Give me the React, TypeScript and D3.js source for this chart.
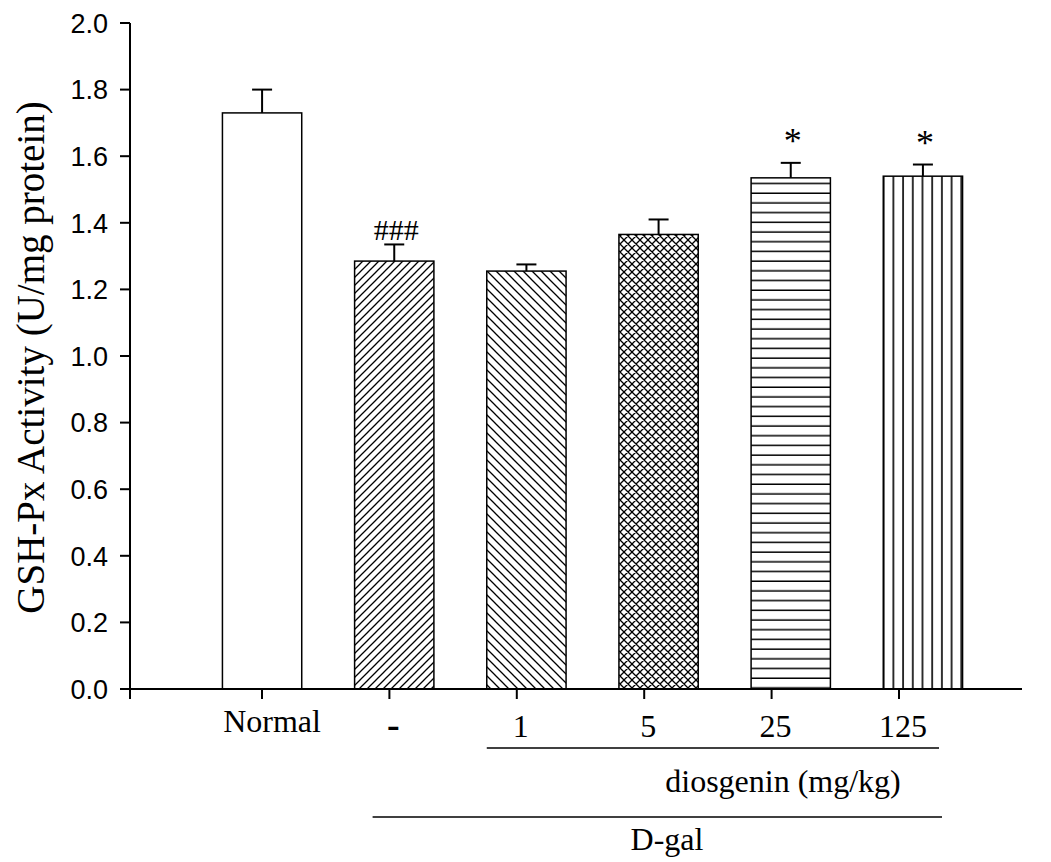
import { useEffect, useRef } from 'react'
import * as d3 from 'd3'

const groups = ['Normal', '-', '1', '5', '25', '125']
const means = [1.73, 1.285, 1.255, 1.365, 1.535, 1.54]
const errors = [0.07, 0.05, 0.02, 0.045, 0.045, 0.035]
const marks = ['', '###', '', '', '*', '*']
const fills = ['none', 'hatchUp', 'hatchDown', 'cross', 'horiz', 'vert']
const yTicks = [0, 0.2, 0.4, 0.6, 0.8, 1.0, 1.2, 1.4, 1.6, 1.8, 2.0]

const W = 1051
const H = 862
const serif = '"Liberation Serif", "Times New Roman", serif'
const sans = '"Liberation Sans", Arial, sans-serif'

export default function App() {
  const svgRef = useRef<SVGSVGElement>(null)

  useEffect(() => {
    if (!svgRef.current) return
    const svg = d3.select(svgRef.current)
    svg.selectAll('*').remove()

    const left = 130
    const right = 1022
    const top = 23
    const bottom = 689

    const y = d3.scaleLinear().domain([0, 2]).range([bottom, top])
    const x = d3.scaleBand<string>().domain(groups).range([196, 989])
      .paddingInner(0.4).paddingOuter(0.2)
    const xt = d3.scalePoint<string>().domain(groups).range([262, 899])

    // hatch patterns
    const defs = svg.append('defs')
    const pat = (id: string, w: number, h: number, d: string, sw: number) => {
      defs.append('pattern')
        .attr('id', id).attr('patternUnits', 'userSpaceOnUse')
        .attr('width', w).attr('height', h)
        .append('path').attr('d', d)
        .attr('stroke', '#000').attr('stroke-width', sw).attr('fill', 'none')
    }
    pat('hatchUp', 8, 8, 'M0,8 L8,0 M-2,2 L2,-2 M6,10 L10,6', 1.3)
    pat('hatchDown', 9, 9, 'M0,0 L9,9 M-2,7 L2,11 M7,-2 L11,2', 1.3)
    pat('cross', 8, 8, 'M0,8 L8,0 M-2,2 L2,-2 M6,10 L10,6 M0,0 L8,8 M-2,6 L2,10 M6,-2 L10,2', 1.3)
    pat('horiz', 20, 9.7, 'M0,9 L20,9', 1.6)
    pat('vert', 9.7, 20, 'M1,0 L1,20', 1.6)

    const g = svg.append('g')

    // bars
    g.selectAll('rect.bar')
      .data(groups)
      .enter()
      .append('rect')
      .attr('class', 'bar')
      .attr('x', d => x(d)!)
      .attr('width', x.bandwidth())
      .attr('y', (d, i) => y(means[i]))
      .attr('height', (d, i) => bottom - y(means[i]))
      .attr('fill', (d, i) => fills[i] === 'none' ? '#fff' : `url(#${fills[i]})`)
      .attr('stroke', '#000')
      .attr('stroke-width', 1.5)

    // error bars (upper only)
    groups.forEach((d, i) => {
      const cx = x(d)! + x.bandwidth() / 2
      const y0 = y(means[i])
      const y1 = y(means[i] + errors[i])
      g.append('line').attr('x1', cx).attr('x2', cx).attr('y1', y0).attr('y2', y1)
        .attr('stroke', '#000').attr('stroke-width', 2)
      g.append('line').attr('x1', cx - 10).attr('x2', cx + 10).attr('y1', y1).attr('y2', y1)
        .attr('stroke', '#000').attr('stroke-width', 2)
      if (marks[i]) {
        g.append('text')
          .attr('x', cx + 2)
          .attr('y', marks[i] === '*' ? y1 - 10 : y1 - 4)
          .attr('text-anchor', 'middle')
          .style('font-family', serif)
          .style('font-size', marks[i] === '*' ? '36px' : '30px')
          .text(marks[i])
      }
    })

    // y axis
    g.append('line').attr('x1', left).attr('x2', left).attr('y1', top).attr('y2', bottom + 10)
      .attr('stroke', '#000').attr('stroke-width', 2)
    yTicks.forEach(t => {
      g.append('line').attr('x1', left - 10).attr('x2', left).attr('y1', y(t)).attr('y2', y(t))
        .attr('stroke', '#000').attr('stroke-width', 2)
      g.append('text')
        .attr('x', left - 22).attr('y', y(t)).attr('dy', '0.36em')
        .attr('text-anchor', 'end')
        .style('font-family', sans).style('font-size', '27px')
        .text(t.toFixed(1))
    })

    // x axis
    g.append('line').attr('x1', left - 10).attr('x2', right).attr('y1', bottom).attr('y2', bottom)
      .attr('stroke', '#000').attr('stroke-width', 2)
    groups.forEach(d => {
      g.append('line').attr('x1', xt(d)!).attr('x2', xt(d)!).attr('y1', bottom).attr('y2', bottom + 10)
        .attr('stroke', '#000').attr('stroke-width', 2)
      g.append('text')
        .attr('x', xt(d)! + (d === 'Normal' ? 10 : 4))
        .attr('y', d === 'Normal' ? 732 : 737)
        .attr('text-anchor', 'middle')
        .style('font-family', serif)
        .style('font-size', d === '-' ? '38px' : '32px')
        .style('font-weight', d === '-' ? 'bold' : 'normal')
        .text(d)
    })

    // group brackets
    const doseStart = x('1')!
    const doseEnd = xt('125')! + 40
    g.append('line').attr('x1', doseStart).attr('x2', doseEnd).attr('y1', 748).attr('y2', 748)
      .attr('stroke', '#000').attr('stroke-width', 1.3)
    g.append('text')
      .attr('x', 783).attr('y', 792).attr('text-anchor', 'middle')
      .style('font-family', serif).style('font-size', '32px')
      .text('diosgenin (mg/kg)')
    g.append('line').attr('x1', x('-')! + 18).attr('x2', doseEnd + 3).attr('y1', 817).attr('y2', 817)
      .attr('stroke', '#000').attr('stroke-width', 1.3)
    g.append('text')
      .attr('x', 667).attr('y', 850).attr('text-anchor', 'middle')
      .style('font-family', serif).style('font-size', '32px')
      .text('D-gal')

    // y label
    g.append('text')
      .attr('transform', `translate(44, ${(92 + 623) / 2}) rotate(-90)`)
      .attr('text-anchor', 'middle')
      .style('font-family', serif).style('font-size', '39px')
      .text('GSH-Px Activity (U/mg protein)')
  }, [])

  return (
    <div style={{ position: 'absolute', left: 0, top: 0, background: '#fff' }}>
      <svg ref={svgRef} width={W} height={H} />
    </div>
  )
}
